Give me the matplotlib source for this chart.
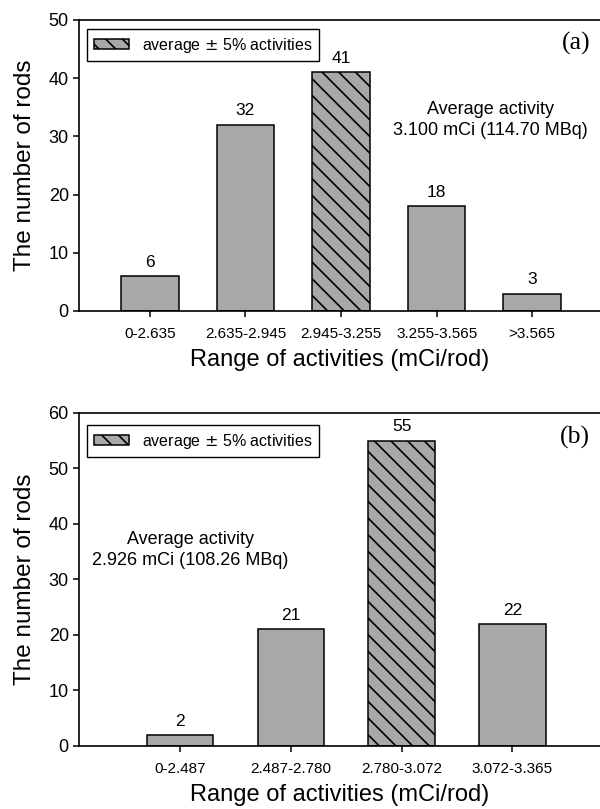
import matplotlib; matplotlib.use("Agg")
import matplotlib.pyplot as plt
import numpy as np

plt.rcParams["font.family"] = ["Liberation Sans", "DejaVu Sans"]
plt.rcParams["hatch.linewidth"] = 1.2

# panel (a)
cats_a = ["0-2.635", "2.635-2.945", "2.945-3.255", "3.255-3.565", ">3.565"]
vals_a = [6, 32, 41, 18, 3]
hl_a = 2
# panel (b)
cats_b = ["0-2.487", "2.487-2.780", "2.780-3.072", "3.072-3.365"]
vals_b = [2, 21, 55, 22]
hl_b = 2

GRAY = "#a8a8a8"
fig = plt.figure(figsize=(6, 8.09), dpi=100)
axa = fig.add_axes([0.132, 0.6156, 0.868, 0.3597])
axb = fig.add_axes([0.132, 0.0779, 0.868, 0.4116])

def panel(ax, cats, vals, hl, ymax, xlim, tag, note, note_xy, tag_y, leg_y):
    x = np.arange(len(cats))
    bars = ax.bar(x, vals, width=0.6, color=GRAY, edgecolor="black", linewidth=1.1)
    bars[hl].set_hatch("\\\\")
    for xi, v in zip(x, vals):
        ax.annotate(str(v), (xi, v), xytext=(0, 4.5), textcoords="offset points",
                    ha="center", va="bottom", fontsize=12.5)
    ax.set_xlim(*xlim); ax.set_ylim(0, ymax)
    ax.set_xticks(x); ax.set_xticklabels(cats, fontsize=11)
    ax.set_yticks(range(0, ymax + 1, 10))
    ax.tick_params(axis="y", labelsize=13, direction="out", length=4.5, width=1.1, pad=3)
    ax.tick_params(axis="x", direction="out", length=4.5, width=1.1, pad=7)
    ax.spines["right"].set_visible(False)
    for s in ("left", "bottom", "top"): ax.spines[s].set_linewidth(1.2)
    ax.set_ylabel("The number of rods", fontsize=17.5, labelpad=9)
    ax.set_xlabel("Range of activities (mCi/rod)", fontsize=17, labelpad=6)
    ax.text(0.981, tag_y, tag, transform=ax.transAxes, ha="right", va="center",
            fontsize=18.5, family=["Liberation Serif", "DejaVu Serif"])
    ax.text(*note_xy, note, transform=ax.transAxes, ha="center", va="center",
            fontsize=13, linespacing=1.35)
    leg = ax.legend([bars[hl]], ["average $\\pm$ 5% activities"], loc="upper left",
                    bbox_to_anchor=(0.015, leg_y), fontsize=11.5, frameon=True, fancybox=False,
                    handlelength=2.2, handleheight=0.65, handletextpad=0.8,
                    borderpad=0.42, borderaxespad=0)
    leg.get_frame().set_edgecolor("black"); leg.get_frame().set_linewidth(1.0)
    leg.get_frame().set_alpha(1)

panel(axa, cats_a, vals_a, hl_a, 50, (-0.74, 4.71), "(a)",
      "Average activity\n3.100 mCi (114.70 MBq)", (0.789, 0.656), 0.921, 0.969)
panel(axb, cats_b, vals_b, hl_b, 60, (-0.91, 3.79), "(b)",
      "Average activity\n2.926 mCi (108.26 MBq)", (0.213, 0.589), 0.928, 0.964)

fig.savefig("out.png", dpi=100)
